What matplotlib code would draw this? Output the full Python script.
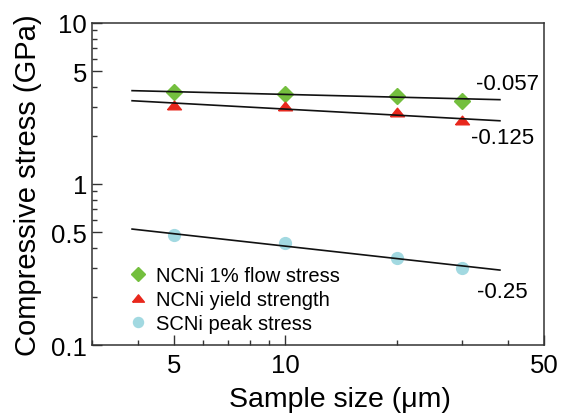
import matplotlib
matplotlib.use("Agg")
import matplotlib.pyplot as plt
from matplotlib.transforms import IdentityTransform
from matplotlib.ticker import LogLocator, NullFormatter, FixedLocator, FixedFormatter

plt.rcParams['font.family'] = ['Liberation Sans', 'DejaVu Sans']

# Data
sizes = [5, 10, 20, 30]
flow_stress = [3.73, 3.64, 3.51, 3.29]     # NCNi 1% flow stress
yield_strength = [3.11, 3.06, 2.79, 2.50]  # NCNi yield strength
peak_stress = [0.482, 0.428, 0.347, 0.299] # SCNi peak stress

# Power-law fit lines (endpoints) and exponents
fit_x = [3.85, 38]
fit_flow = [3.80, 3.34]
fit_yield = [3.29, 2.47]
fit_peak = [0.525, 0.292]
exponents = ['-0.057', '-0.125', '-0.25']

x_ticks = [5, 10, 50]
x_ticklabels = ['5', '10', '50']
y_ticks = [0.1, 0.5, 1, 5, 10]
y_ticklabels = ['0.1', '0.5', '1', '5', '10']

fig = plt.figure(figsize=(5.7, 4.14), dpi=100)
ax = fig.add_axes([92/570, 1-346/414, (544-92)/570, (346-24)/414])
ax.set_xscale('log')
ax.set_yscale('log')
ax.set_xlim(3, 50)
ax.set_ylim(0.1, 10)

green = '#74bf3e'
red = '#e8271c'
cyan = '#a2d9e1'

tri = [(-1, -0.62), (1, -0.62), (0, 0.62), (-1, -0.62)]

ax.plot(sizes, flow_stress, linestyle='none', marker='D', ms=8, color=green,
        mec=green, label='NCNi 1% flow stress', zorder=3)
ax.plot(sizes, yield_strength, linestyle='none', marker=tri, ms=10, color=red,
        mec=red, label='NCNi yield strength', zorder=3)
ax.plot(sizes, peak_stress, linestyle='none', marker='o', ms=8.5, color=cyan,
        mec=cyan, label='SCNi peak stress', zorder=3)

for fy in (fit_flow, fit_yield, fit_peak):
    ax.plot(fit_x, fy, color='#111111', lw=1.2, zorder=4)

# exponent labels, placed in pixel coordinates (top-left origin)
label_px = [(476, 85), (471, 139), (477, 293)]
for txt, (px, py) in zip(exponents, label_px):
    fig.text(px, 414 - py, txt, transform=IdentityTransform(), fontsize=16,
             va='center', ha='left')

ax.xaxis.set_major_locator(FixedLocator(x_ticks))
ax.xaxis.set_major_formatter(FixedFormatter(x_ticklabels))
ax.xaxis.set_minor_locator(LogLocator(base=10, subs=range(2, 10)))
ax.xaxis.set_minor_formatter(NullFormatter())
ax.yaxis.set_major_locator(FixedLocator(y_ticks))
ax.yaxis.set_major_formatter(FixedFormatter(y_ticklabels))
ax.yaxis.set_minor_locator(LogLocator(base=10, subs=range(2, 10)))
ax.yaxis.set_minor_formatter(NullFormatter())

ax.tick_params(which='major', direction='in', length=7, width=1.0, labelsize=18.5,
               color='#333333')
ax.tick_params(which='minor', direction='in', length=3.5, width=1.0, color='#333333')
ax.tick_params(axis='x', which='major', pad=6)
ax.tick_params(axis='y', which='major', pad=3.5)
for s in ax.spines.values():
    s.set_linewidth(1.1)
    s.set_color('#333333')

ax.set_xlabel('Sample size (\u03bcm)', fontsize=20.5)
ax.set_ylabel('Compressive stress (GPa)', fontsize=21)
ax.xaxis.set_label_coords((340-92)/452, -(400-346)/322, transform=ax.transAxes)
ax.xaxis.label.set_va('center')
ax.yaxis.set_label_coords(-(92-28)/452, 0.5, transform=ax.transAxes)
ax.yaxis.label.set_va('center')

leg = ax.legend(loc='upper left', bbox_to_anchor=(130/570, 1-267/414),
                bbox_transform=fig.transFigure, frameon=False, fontsize=14.5,
                handlelength=0.8, handletextpad=0.5, labelspacing=0.25,
                borderpad=0, borderaxespad=0, markerscale=0.85)

fig.savefig('out.png', dpi=100)
